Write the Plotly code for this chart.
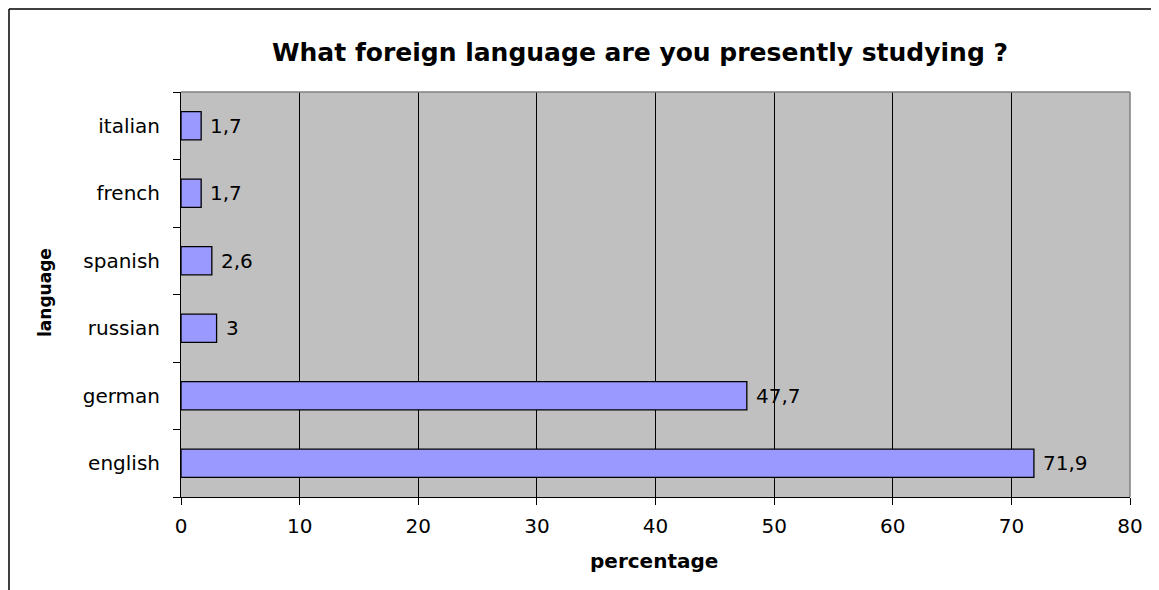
import plotly.graph_objects as go

languages = ["english", "german", "russian", "spanish", "french", "italian"]
percentages = [71.9, 47.7, 3, 2.6, 1.7, 1.7]
labels = ["71,9", "47,7", "3", "2,6", "1,7", "1,7"]
x_ticks = [0, 10, 20, 30, 40, 50, 60, 70, 80]

OFF = 8  # default page body margin
W, H = 1151, 582
L, T = 181 - OFF, 92 - OFF
pw, ph = 949, 405
R = W - L - pw
B = H - T - ph

def px(x):
    return (x - OFF - L) / pw

def py(y):
    return (H - B - (y - OFF)) / ph

FONT = "DejaVu Sans, Liberation Sans, Arial"

fig = go.Figure(go.Bar(
    x=percentages, y=languages, orientation="h",
    marker=dict(color="#9999FF", line=dict(color="black", width=1.3)),
    width=0.42,
))

annotations = [
    dict(x=v, y=c, text=t, xref="x", yref="y", xanchor="left", yanchor="middle",
         xshift=7, showarrow=False, font=dict(family=FONT, size=20, color="black"))
    for v, c, t in zip(percentages, languages, labels)
]
annotations += [
    dict(x=px(654), y=py(561), xref="paper", yref="paper", text="<b>percentage</b>",
         showarrow=False, xanchor="center", yanchor="middle",
         font=dict(family=FONT, size=20, color="black")),
    dict(x=px(45), y=py(293), xref="paper", yref="paper", text="<b>language</b>",
         showarrow=False, xanchor="center", yanchor="middle", textangle=-90,
         font=dict(family=FONT, size=17, color="black")),
]

fig.update_layout(
    width=W, height=H,
    margin=dict(l=L, r=R, t=T, b=B),
    paper_bgcolor="white", plot_bgcolor="#C0C0C0",
    showlegend=False,
    font=dict(family=FONT, size=20, color="black"),
    title=dict(text="<b>What foreign language are you presently studying ?</b>",
               x=px(640), xanchor="center", xref="paper",
               y=1 - (52 - OFF) / H, yanchor="middle",
               font=dict(family=FONT, size=25, color="black")),
    xaxis=dict(range=[0, 80], tickvals=x_ticks, showgrid=True, gridcolor="black", gridwidth=1,
               showline=True, linecolor="black", linewidth=1, ticks="outside", ticklen=7,
               tickcolor="black", zeroline=False, ticklabelstandoff=4),
    yaxis=dict(categoryorder="array", categoryarray=languages, showgrid=False,
               showline=True, linecolor="black", linewidth=1, ticks="outside", ticklen=7,
               tickcolor="black", tickson="boundaries", zeroline=False,
               ticklabelstandoff=16),
    annotations=annotations,
    shapes=[
        dict(type="line", xref="paper", yref="paper", x0=0, x1=1, y0=1, y1=1,
             line=dict(color="#808080", width=1.5), layer="above"),
        dict(type="line", xref="paper", yref="paper", x0=1, x1=1, y0=0, y1=1,
             line=dict(color="#808080", width=1.5), layer="above"),
        dict(type="line", xref="paper", yref="paper", x0=px(9), x1=px(9), y0=py(9), y1=py(600),
             line=dict(color="black", width=1.5)),
        dict(type="line", xref="paper", yref="paper", x0=px(9), x1=px(1200), y0=py(9), y1=py(9),
             line=dict(color="black", width=1.5)),
    ],
)

fig.write_html("out.html")
